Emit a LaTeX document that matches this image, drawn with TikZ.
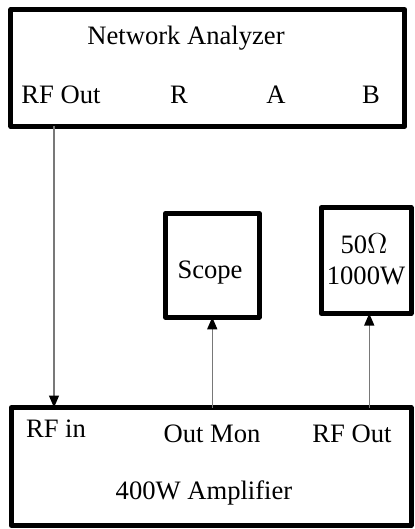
\documentclass[tikz,border=0pt]{standalone}
\usepackage{fontspec}
\setmainfont{Liberation Serif}
\usetikzlibrary{arrows.meta}

\begin{document}
\begin{tikzpicture}[x=0.5pt,y=0.5pt,yscale=-1,xscale=1,
    unit/.style={draw, line width=2.3pt, line join=round, inner sep=0pt, outer sep=0pt},
    lbl/.style={anchor=base, inner sep=0pt, font=\fontsize{13.3}{16}\selectfont},
    sig/.style={draw={rgb, 255:red, 120; green, 120; blue, 120}, line width=0.6pt,
        -{Triangle[length=6pt, width=5pt, color=black]}}]

\useasboundingbox (0,0) rectangle (415,529);

% --- 1. 四个仪器方框 ---
\node [unit, minimum width=197pt, minimum height=58.5pt] (na)    at (207.75,68) {};
\node [unit, minimum width=200pt, minimum height=59pt]   (amp)   at (211.25,466.5) {};
\node [unit, minimum width=47pt,  minimum height=52pt]   (scope) at (212.25,265.25) {};
\node [unit, minimum width=45pt,  minimum height=53pt]   (load)  at (366.25,260.5) {};

% --- 2. 方框内的文字 ---
\node [lbl] (naTitle) at (186,45)  {Network Analyzer};
\node [lbl] (naRF)    at (61,104)  {RF Out};
\node [lbl] (naR)     at (179,104) {R};
\node [lbl] (naA)     at (276,104) {A};
\node [lbl] (naB)     at (371,104) {B};

\node [lbl] (scopeTxt) at (210,278) {Scope};
\node [lbl] (loadOhm)  at (364,253) {50$\Omega$};
\node [lbl] (loadPow)  at (366,284) {1000W};

\node [lbl] (ampIn)    at (56,437)  {RF in};
\node [lbl] (ampMon)   at (212,442) {Out Mon};
\node [lbl] (ampOut)   at (352,442) {RF Out};
\node [lbl] (ampTitle) at (204,499) {400W Amplifier};

% --- 3. 信号连线 ---
\coordinate (rfx) at (54,0);
\draw [sig] (na.south -| rfx) -- (amp.north -| rfx);
\draw [sig] (amp.north -| scope.south) -- (scope.south);
\draw [sig] ([xshift=1.5pt]amp.north -| load.south) -- ([xshift=1.5pt]load.south);

\end{tikzpicture}
\end{document}
